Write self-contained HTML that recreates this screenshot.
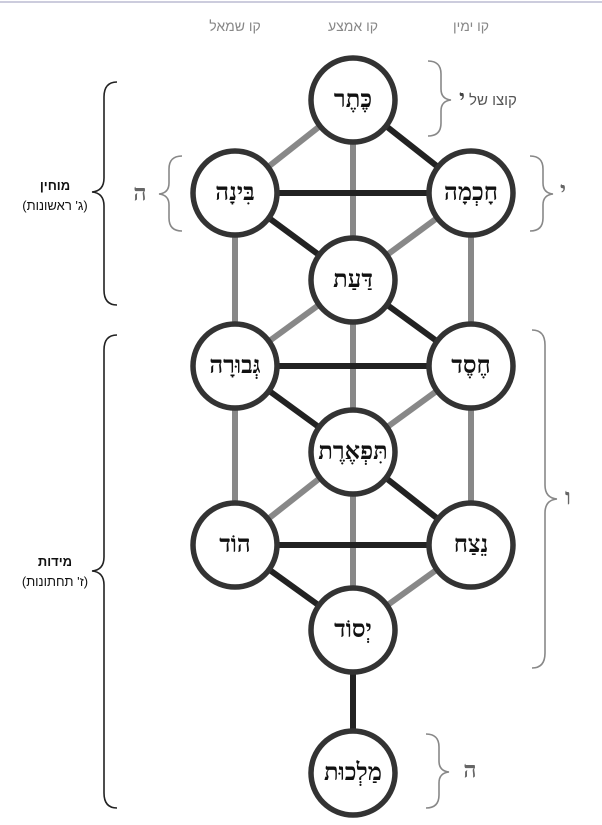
<!DOCTYPE html>
<html><head><meta charset="utf-8"><style>
html,body{margin:0;padding:0;background:#fff;}
svg{display:block;}
.n{font-family:"Liberation Serif","Noto Serif CJK SC",serif;font-weight:bold;font-size:24px;fill:#111;text-anchor:middle;dominant-baseline:central;}
.h{font-family:"Liberation Sans",sans-serif;font-size:14px;fill:#888;text-anchor:middle;}
.l{font-family:"Liberation Sans",sans-serif;font-size:13px;fill:#111;text-anchor:middle;}
.g{font-family:"Liberation Serif",serif;font-size:23px;fill:#666;text-anchor:middle;dominant-baseline:central;font-weight:bold;}
</style></head><body>
<svg width="602" height="825" viewBox="0 0 602 825">
<line x1="0" y1="2" x2="602" y2="2" stroke="#ccd" stroke-width="2"/>
<text class="h" x="235" y="31" direction="rtl">קו שמאל</text>
<text class="h" x="353" y="31" direction="rtl">קו אמצע</text>
<text class="h" x="471" y="31" direction="rtl">קו ימין</text>
<g stroke-width="6" stroke-linecap="butt">
<g stroke="#888">
<line x1="353" y1="100" x2="235" y2="193"/>
<line x1="353" y1="100" x2="353" y2="280"/>
<line x1="471" y1="193" x2="353" y2="280"/>
<line x1="235" y1="193" x2="235" y2="366"/>
<line x1="471" y1="193" x2="471" y2="366"/>
<line x1="353" y1="280" x2="235" y2="366"/>
<line x1="353" y1="280" x2="353" y2="452"/>
<line x1="471" y1="366" x2="353" y2="452"/>
<line x1="235" y1="366" x2="235" y2="545"/>
<line x1="471" y1="366" x2="471" y2="545"/>
<line x1="353" y1="452" x2="235" y2="545"/>
<line x1="353" y1="452" x2="353" y2="630"/>
<line x1="471" y1="545" x2="353" y2="630"/>
</g>
<g stroke="#222">
<line x1="353" y1="100" x2="471" y2="193"/>
<line x1="235" y1="193" x2="471" y2="193"/>
<line x1="235" y1="193" x2="353" y2="280"/>
<line x1="353" y1="280" x2="471" y2="366"/>
<line x1="235" y1="366" x2="471" y2="366"/>
<line x1="235" y1="366" x2="353" y2="452"/>
<line x1="353" y1="452" x2="471" y2="545"/>
<line x1="235" y1="545" x2="471" y2="545"/>
<line x1="235" y1="545" x2="353" y2="630"/>
<line x1="353" y1="630" x2="353" y2="773"/>
</g>
</g>
<g fill="#fff" stroke="#333" stroke-width="5.5">
<circle cx="353" cy="100" r="42"/>
<circle cx="235" cy="193" r="42"/>
<circle cx="471" cy="193" r="42"/>
<circle cx="353" cy="280" r="42"/>
<circle cx="235" cy="366" r="42"/>
<circle cx="471" cy="366" r="42"/>
<circle cx="353" cy="452" r="42"/>
<circle cx="235" cy="545" r="42"/>
<circle cx="471" cy="545" r="42"/>
<circle cx="353" cy="630" r="42"/>
<circle cx="353" cy="773" r="42"/>
</g>
<text class="n" x="353" y="100" direction="rtl">כֶּתֶר</text>
<text class="n" x="235" y="193" direction="rtl">בִּינָה</text>
<text class="n" x="471" y="193" direction="rtl">חָכְמָה</text>
<text class="n" x="353" y="280" direction="rtl">דַּעַת</text>
<text class="n" x="235" y="366" direction="rtl">גְּבוּרָה</text>
<text class="n" x="471" y="366" direction="rtl">חֶסֶד</text>
<text class="n" x="353" y="452" direction="rtl">תִּפְאֶרֶת</text>
<text class="n" x="235" y="545" direction="rtl">הוֹד</text>
<text class="n" x="471" y="545" direction="rtl">נֵצַח</text>
<text class="n" x="353" y="630" direction="rtl">יְסוֹד</text>
<text class="n" x="353" y="773" direction="rtl">מַלְכוּת</text>
<g fill="none" stroke-width="1.6">
<path d="M117,82 Q104,82 104,97 L104,178 Q104,191 92,192 Q104,193 104,206 L104,290 Q104,305 117,305" stroke="#222"/>
<path d="M117,335 Q104,335 104,350 L104,557 Q104,570 92,571 Q104,572 104,585 L104,793 Q104,808 117,808" stroke="#222"/>
<path d="M428,61 Q441,61 441,74 L441,89 Q441,99 451,100 Q441,101 441,111 L441,123 Q441,136 428,136" stroke="#888"/>
<path d="M530,156 Q543,156 543,169 L543,183 Q543,193 553,194 Q543,195 543,205 L543,218 Q543,231 530,231" stroke="#888"/>
<path d="M182,156 Q169,156 169,169 L169,183 Q169,193 159,194 Q169,195 169,205 L169,218 Q169,231 182,231" stroke="#888"/>
<path d="M532,330 Q545,330 545,345 L545,485 Q545,498 557,499 Q545,500 545,513 L545,653 Q545,668 532,668" stroke="#888"/>
<path d="M426,734 Q439,734 439,747 L439,761 Q439,771 449,772 Q439,773 439,783 L439,795 Q439,808 426,808" stroke="#888"/>
</g>
<text class="l" x="55" y="190" font-weight="bold" direction="rtl">מוחין</text>
<text class="l" x="55" y="210" direction="rtl">(ג' ראשונות)</text>
<text class="l" x="55" y="566" font-weight="bold" direction="rtl">מידות</text>
<text class="l" x="55" y="586" direction="rtl">(ז' תחתונות)</text>
<text class="g" x="140" y="193">ה</text>
<text class="g" x="563" y="190">י</text>
<text class="g" x="568" y="497">ו</text>
<text class="g" x="470" y="770">ה</text>
<text x="488" y="105" font-family="Liberation Sans,sans-serif" font-size="15" fill="#555" text-anchor="middle" direction="rtl">קוצו של <tspan font-family="Liberation Serif,serif" font-weight="bold" font-size="22" fill="#444">י</tspan></text>
</svg>
</body></html>
